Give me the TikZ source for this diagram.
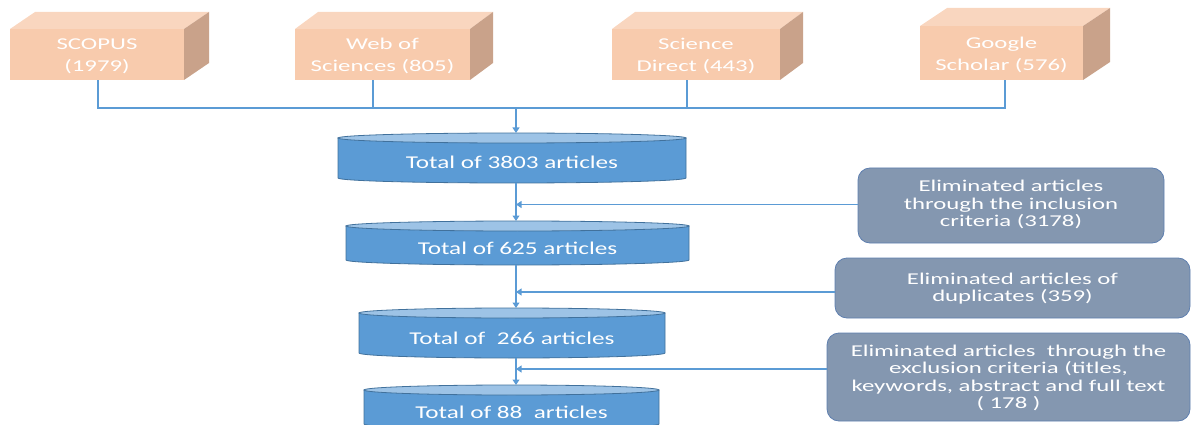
\documentclass[tikz,border=0pt]{standalone}
\usepackage{fontspec}
\setmainfont{Carlito}
\usepackage{graphicx}
\usetikzlibrary{arrows.meta}
\definecolor{peach}{HTML}{F8CBAD}
\definecolor{peachtop}{HTML}{F9D6BF}
\definecolor{peachside}{HTML}{C9A28A}
\definecolor{cylbody}{HTML}{5B9BD5}
\definecolor{cyltop}{HTML}{9DC3E6}
\definecolor{cylline}{HTML}{41719C}
\definecolor{elim}{HTML}{8497B0}
\definecolor{elimline}{HTML}{5E7FAF}
\definecolor{connc}{HTML}{5B9BD5}
\newcommand\wide[2]{\scalebox{#1}[1]{\begin{tabular}{@{}c@{}}#2\end{tabular}}}
\newcommand\cube[8]{%
  \fill[peachtop] (#2,-#4) -- ++(#6,#7) -- (#3+#6,-#4+#7) -- (#3,-#4) -- cycle;
  \fill[peachside] (#3,-#4) -- ++(#6,#7) -- (#3+#6,-#5+#7) -- (#3,-#5) -- cycle;
  \node[front, minimum width={#3-#2}, minimum height={#5-#4},
        label={[fronttext, yshift=-2pt]center:{\wide{1.5}{#8}}}] (#1) at ({(#2+#3)/2},{-(#4+#5)/2}) {};
}
\newcommand\cyl[6]{%
  \pgfmathsetmacro\cx{(#2+#3)/2}%
  \pgfmathsetmacro\rx{(#3-#2)/2}%
  \filldraw[fill=cylbody, draw=cylline, line width=0.8pt] (#2,-#4-5) -- (#2,-#5+5) arc[start angle=180, end angle=360, x radius=\rx, y radius=5] -- (#3,-#4-5) -- cycle;
  \filldraw[fill=cyltop, draw=cylline, line width=0.8pt] (\cx,-#4-5) ellipse [x radius=\rx, y radius=5];
  \coordinate (#1top) at (516,-#4);
  \coordinate (#1bot) at (516,-#5);
  \node[cyltext] (#1) at (\cx,{-(#4+#5)/2-7}) {\wide{1.4}{#6}};
}
\begin{document}
\begin{tikzpicture}[x=1pt,y=1pt,
  conn/.style={draw=connc, line width=1.1pt},
  tip/.style={-{Triangle[width=7pt,length=5.5pt]}},
  front/.style={fill=peach, inner sep=0pt},
  fronttext/.style={inner sep=0pt, font=\fontsize{16.5}{22}\selectfont, text=white},
  elimbox/.style={rounded corners=12pt, fill=elim, draw=elimline, line width=0.8pt, inner sep=0pt},
  elimtext/.style={inner sep=0pt, text=white, font=\fontsize{16.5}{17.5}\selectfont},
  cyltext/.style={text=white, inner sep=0pt, font=\fontsize{18}{20}\selectfont}]
\useasboundingbox (0,0) rectangle (1192,-425);
\clip (0,0) rectangle (1192,-425);
% source boxes
\cube{s1}{10}{184}{29}{80}{25}{17}{SCOPUS\\(1979)}
\cube{s2}{295}{470}{29}{80}{23}{17}{Web of\\Sciences (805)}
\cube{s3}{612}{780}{29}{80}{23}{17}{Science\\Direct (443)}
\cube{s4}{920}{1083}{26}{80}{27}{18}{Google\\Scholar (576)}
% cylinders
\cyl{c1}{338}{686}{133}{183}{Total of 3803 articles}
\cyl{c2}{346}{689}{221}{265}{Total of 625 articles}
\cyl{c3}{359}{665}{308}{358}{Total of~ 266 articles}
\cyl{c4}{364}{659}{385}{429}{Total of 88~ articles}
% elimination boxes
\node[elimbox, minimum width=306, minimum height=75,
      label={[elimtext]center:{\wide{1.5}{Eliminated articles\\through the inclusion\\criteria (3178)}}}] (e1) at (1011,-205.5) {};
\node[elimbox, minimum width=355, minimum height=60,
      label={[elimtext, yshift=-1.5pt]center:{\wide{1.5}{Eliminated articles of\\duplicates (359)}}}] (e2) at (1012.5,-288) {};
\node[elimbox, minimum width=363, minimum height=88,
      label={[elimtext, yshift=-2pt]center:{\wide{1.5}{Eliminated articles~ through the\\exclusion criteria (titles,\\keywords, abstract and full text\\( 178 )}}}] (e3) at (1008.5,-377) {};
% connectors
\coordinate (bus) at (516,-108);
\coordinate (v1) at ([xshift=1]s1.south);
\coordinate (v2) at ([xshift=-9.5]s2.south);
\coordinate (v3) at ([xshift=-9]s3.south);
\coordinate (v4) at ([xshift=3.5]s4.south);
\draw[conn] (v1) -- (v1 |- bus) -- (v4 |- bus) -- (v4);
\draw[conn] (v2) -- (v2 |- bus);
\draw[conn] (v3) -- (v3 |- bus);
\draw[conn,tip] (bus) -- (c1top);
\draw[conn,tip] (c1bot) -- (c2top);
\draw[conn,tip] (c2bot) -- (c3top);
\draw[conn,tip] (c3bot) -- (c4top);
\coordinate (e1w) at ([yshift=1]e1.west);
\coordinate (e2w) at ([yshift=-4]e2.west);
\coordinate (e3w) at ([yshift=8]e3.west);
\draw[conn,tip] (e1w) -- (e1w -| c2top);
\draw[conn,tip] (e2w) -- (e2w -| c3top);
\draw[conn,tip] (e3w) -- (e3w -| c4top);
\end{tikzpicture}
\end{document}
